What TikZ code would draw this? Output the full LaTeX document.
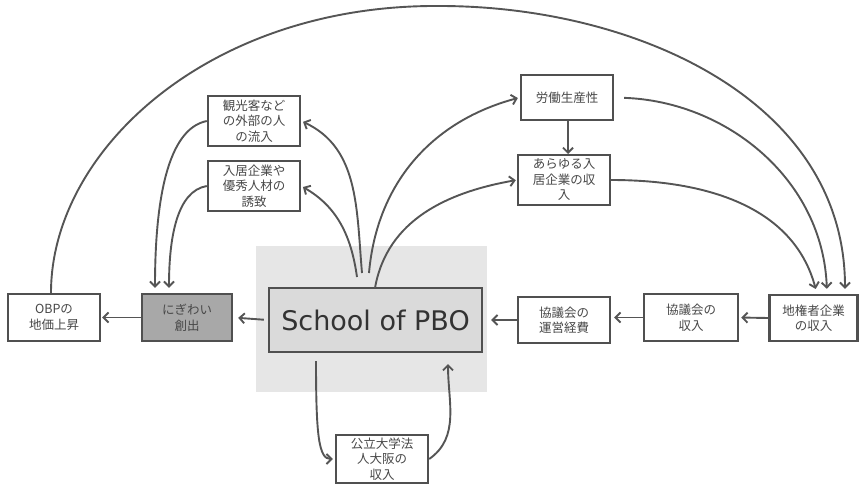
\documentclass[tikz,border=0pt]{standalone}
\usepackage{fontspec}
\newfontfamily\jp{Noto Sans CJK JP}
\newfontfamily\dvs{DejaVu Sans}
\usetikzlibrary{arrows.meta}
\definecolor{bc}{HTML}{505050}
\definecolor{lc}{HTML}{555555}
\definecolor{tc}{HTML}{484848}
\definecolor{bgc}{HTML}{E6E6E6}
\definecolor{nigc}{HTML}{A8A8A8}
\tikzset{
  box/.style={draw=bc, line width=2.4pt, fill=white, align=center, text=tc, inner sep=1pt,
    font=\jp\fontsize{12.5}{15.5}\selectfont},
  conn/.style={draw=lc, line width=1.9pt, -{Straight Barb[length=5pt,width=10pt,line width=1.9pt]}},
}
\begin{document}
\begin{tikzpicture}[x=1pt,y=-1pt]
\useasboundingbox (0,0) rectangle (859,485);
% background
\fill[bgc] (256,246) rectangle (487,392);
% nodes
\node[box, fill=bgc!95!black, minimum width=213pt, minimum height=64pt, font=\dvs\fontsize{27}{30}\selectfont, text=black!80] (sch) at (375.5,320) {School of PBO};
\node[box, minimum width=92pt, minimum height=47pt] (obp) at (54,317.5) {OBPの\\地価上昇};
\node[box, fill=nigc, minimum width=90pt, minimum height=47pt] (nig) at (187,317.5) {にぎわい\\創出};
\node[box, minimum width=92pt, minimum height=50pt] (kan) at (254,121) {観光客など\\の外部の人\\の流入};
\node[box, minimum width=92pt, minimum height=50pt] (nyu) at (254,186) {入居企業や\\優秀人材の\\誘致};
\node[box, minimum width=92pt, minimum height=45pt] (rou) at (567,97.5) {労働生産性};
\node[box, minimum width=92pt, minimum height=50pt] (ara) at (564,180) {あらゆる入\\居企業の収\\入};
\node[box, minimum width=92pt, minimum height=46pt] (unei) at (564,320) {協議会の\\運営経費};
\node[box, minimum width=94pt, minimum height=47pt] (kyo) at (691,317.5) {協議会の\\収入};
\node[box, minimum width=88pt, minimum height=46pt] (ji) at (813.5,318) {地権者企業\\の収入};
\node[box, minimum width=92pt, minimum height=48pt] (bot) at (382,459) {公立大学法\\人大阪の\\収入};
% free-end coordinates
\coordinate (s1) at (357,277);
\coordinate (s2) at (362,273);
\coordinate (s3) at (369,273);
\coordinate (s4) at (375,288);
\coordinate (b1) at (316,361);
\coordinate (b2) at (448,364);
\coordinate (peak) at (440,6);
% straight arrows
\draw[conn, shorten >=1pt] (nig.west) -- (obp.east);
\draw[conn, shorten <=4pt, shorten >=5pt] (sch.west) -- (nig.east);
\draw[conn, shorten >=2pt] (ji.west) -- (kyo.east);
\draw[conn, shorten >=3pt] (kyo.west) -- (unei.east |- kyo.west);
\draw[conn, shorten >=8pt] (unei.west) -- (sch.east);
\draw[conn, shorten >=1pt] (rou.south -| 568,0) -- (568,155);
% curves from school upward
\draw[conn, shorten >=2pt] (s2) to[out=95,in=-25] (kan.east);
\draw[conn, shorten >=2pt] (s1) to[out=98,in=-30] (nyu.east);
\draw[conn, shorten >=2pt] (s3) to[out=85,in=195] (rou.west);
\draw[conn, shorten >=1pt] (s4) to[out=80,in=190] (ara.west);
% left curves into にぎわい
\draw[conn, shorten >=5pt] (kan.west) .. controls +(-40,8) and +(0,-90) .. ([xshift=-32pt]nig.north);
\draw[conn, shorten >=5pt] (nyu.west) .. controls +(-30,5) and +(0,-55) .. ([xshift=-18pt]nig.north);
% right curves into 地権者
\draw[conn, shorten <=10pt, shorten >=5pt] (rou.east) to[out=-2,in=92] ([xshift=13.5pt]ji.north);
\draw[conn, shorten >=5pt] (ara.east) to[out=0,in=105] ([xshift=3.5pt]ji.north);
% big arc
\draw[conn, shorten >=5pt] ([xshift=-3pt]obp.north) .. controls (51,150) and (210,4) .. (peak)
   to[out=0,in=90] ([xshift=31.5pt]ji.north);
% bottom loop
\draw[conn, shorten >=2pt] (b1) .. controls +(0,75) and +(-16,0) .. (bot.west);
\draw[conn] (bot.east) to[out=35,in=-90] (b2);
\end{tikzpicture}
\end{document}
